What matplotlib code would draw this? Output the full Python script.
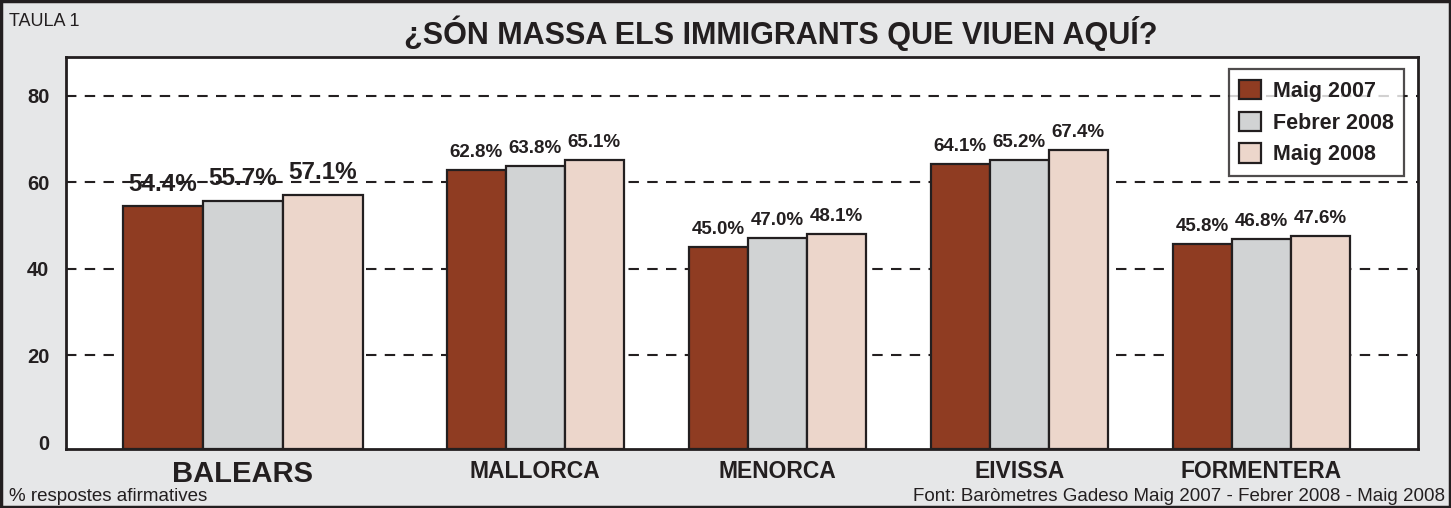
import numpy as np
import matplotlib.pyplot as plt
from matplotlib.patches import Rectangle

# ── data ─────────────────────────────────────────────
regions = ['BALEARS', 'MALLORCA', 'MENORCA', 'EIVISSA', 'FORMENTERA']
series = ['Maig 2007', 'Febrer 2008', 'Maig 2008']
maig_2007 = [54.4, 62.8, 45.0, 64.1, 45.8]
febrer_2008 = [55.7, 63.8, 47.0, 65.2, 46.8]
maig_2008 = [57.1, 65.1, 48.1, 67.4, 47.6]
yticks = [0, 20, 40, 60, 80]

# ── style ────────────────────────────────────────────
BG = '#e6e7e8'
INK = '#231f20'
colors = ['#8f3c22', '#d1d3d4', '#ecd6cb']
plt.rcParams['font.family'] = ['Liberation Sans', 'DejaVu Sans']

# group layout: BALEARS stands a bit apart and has wider bars
centers = np.array([0.0, 1.207, 2.207, 3.207, 4.207])
widths = np.array([0.33, 0.244, 0.244, 0.244, 0.244])
Y_FLOOR = -1.6

fig = plt.figure(figsize=(14.51, 5.08), dpi=100, facecolor=BG)
ax = fig.add_axes([0.0455, 0.1161, 0.9318, 0.7717])
ax.set_facecolor('white')

for i, vals in enumerate([maig_2007, febrer_2008, maig_2008]):
    vals = np.array(vals)
    xs = centers + (i - 1) * widths
    ax.bar(xs, vals - Y_FLOOR, bottom=Y_FLOOR, width=widths, color=colors[i],
           edgecolor=INK, linewidth=1.6, zorder=3, label=series[i])
    for j, (x, v) in enumerate(zip(xs, vals)):
        big = j == 0
        ax.annotate(f'{v:.1f}%', (x, v), xytext=(0, 7.5 if big else 6.5),
                    textcoords='offset points', ha='center', va='bottom',
                    fontsize=17.5 if big else 13.5, fontweight='bold',
                    color=INK, zorder=4)

# dashed gridlines
for y in yticks[1:]:
    ax.axhline(y, color=INK, linestyle=(0, (5, 4)), linewidth=1.5, zorder=1)

ax.set_xlim(-0.731, 4.855)
ax.set_ylim(Y_FLOOR, 88.9)
ax.set_yticks(yticks)
ax.set_yticklabels([str(t) for t in yticks], fontsize=14.5, fontweight='bold',
                   color=INK)
ax.tick_params(axis='y', length=0, pad=12)
ax.set_xticks(centers)
ax.set_xticklabels(regions, fontweight='bold', color=INK, fontsize=16.5)
ax.get_xticklabels()[0].set_fontsize(21)
ax.tick_params(axis='x', length=0, pad=8)
for s in ax.spines.values():
    s.set_linewidth(2)
    s.set_color(INK)

leg = ax.legend(loc='upper right', bbox_to_anchor=(0.993, 0.98),
                prop={'weight': 'bold', 'size': 15.5}, frameon=True,
                fancybox=False, edgecolor=INK, handlelength=1.0,
                handleheight=1.0, handletextpad=0.55, labelspacing=0.45,
                borderpad=0.5, borderaxespad=0.2, labelcolor=INK)
leg.get_frame().set_linewidth(1.6)
leg.get_frame().set_facecolor('white')
leg.set_zorder(5)

# figure texts
fig.text(0.538, 0.935, '¿SÓN MASSA ELS IMMIGRANTS QUE VIUEN AQUÍ?',
         ha='center', va='center', fontsize=22, fontweight='bold', color=INK)
fig.text(0.006, 0.958, 'TAULA 1', ha='left', va='center', fontsize=13,
         color=INK)
fig.text(0.006, 0.022, '% respostes afirmatives', ha='left', va='center',
         fontsize=13.5, color=INK)
fig.text(0.996, 0.022, 'Font: Baròmetres Gadeso Maig 2007 - Febrer 2008 - Maig 2008',
         ha='right', va='center', fontsize=13.5, color=INK)

# outer frame
fig.patches.append(Rectangle((0.001, 0.002), 0.998, 0.996,
                             transform=fig.transFigure, fill=False,
                             edgecolor=INK, linewidth=2.5))

fig.savefig('out.png', dpi=100, facecolor=BG)
